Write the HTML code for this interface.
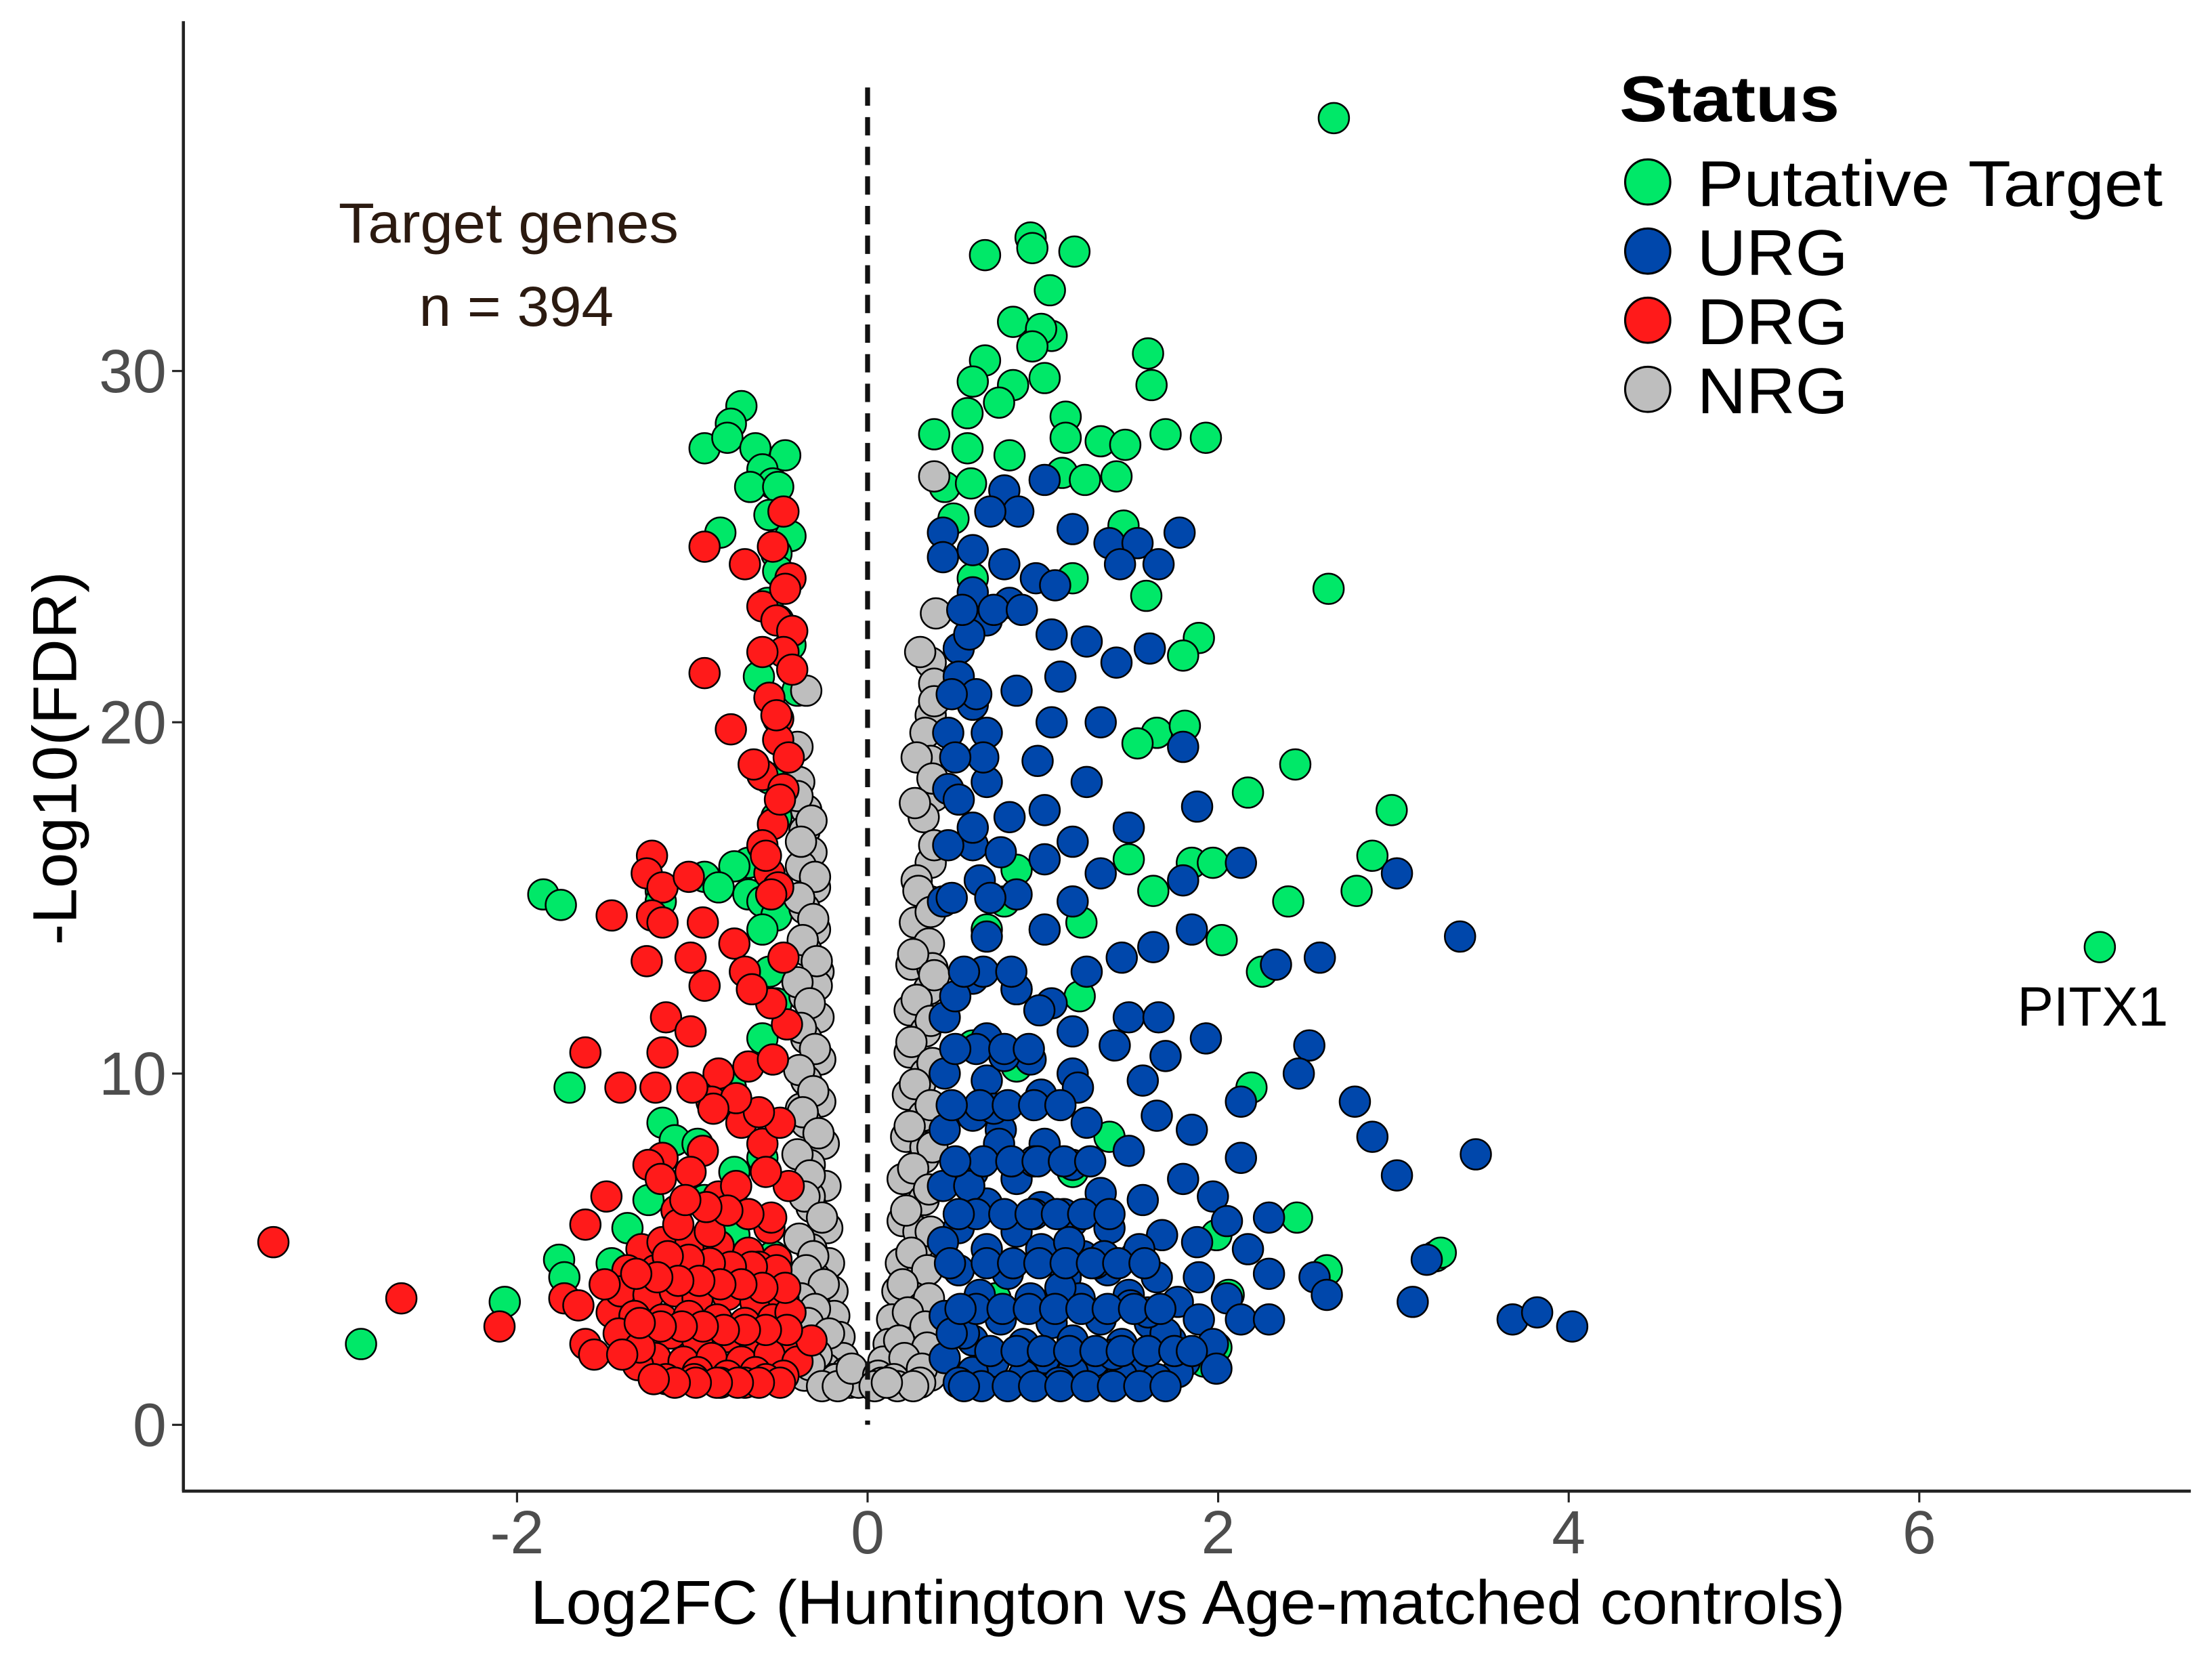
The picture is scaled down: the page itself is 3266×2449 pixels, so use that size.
<!DOCTYPE html>
<html><head><meta charset="utf-8"><style>
html,body{margin:0;padding:0;background:#fff;}
svg{display:block;}
text{font-family:"Liberation Sans",sans-serif;}
</style></head><body>
<svg id="chart" width="3266" height="2449" viewBox="0 0 1568 1176" preserveAspectRatio="none" xmlns="http://www.w3.org/2000/svg">
<rect x="0" y="0" width="1568" height="1176" fill="#fff"/>
<g id="points"></g>
<g id="axes"></g>
<text x="240" y="172" font-size="40" textLength="241" lengthAdjust="spacingAndGlyphs" fill="#2b1a10">Target genes</text>
<text x="297" y="231" font-size="40" textLength="138" lengthAdjust="spacingAndGlyphs" fill="#2b1a10">n = 394</text>
<text x="1430" y="727" font-size="39" textLength="107" lengthAdjust="spacingAndGlyphs" fill="#000">PITX1</text>
<text x="376" y="1151" font-size="44" textLength="932" lengthAdjust="spacingAndGlyphs" fill="#000">Log2FC (Huntington vs Age-matched controls)</text>
<text transform="translate(54,670) rotate(-90)" font-size="44" textLength="265" lengthAdjust="spacingAndGlyphs" fill="#000">-Log10(FDR)</text>
<g>
<text x="1148" y="86" font-size="46" font-weight="bold" textLength="156" lengthAdjust="spacingAndGlyphs" fill="#000">Status</text>
<circle cx="1168" cy="129" r="16" fill="#00E868" stroke="#000" stroke-width="1.5"/>
<text x="1203" y="146" font-size="46" textLength="330" lengthAdjust="spacingAndGlyphs" fill="#000">Putative Target</text>
<circle cx="1168" cy="178" r="16" fill="#0047AB" stroke="#000" stroke-width="1.5"/>
<text x="1203" y="195" font-size="46" textLength="107" lengthAdjust="spacingAndGlyphs" fill="#000">URG</text>
<circle cx="1168" cy="227" r="16" fill="#FF1A1A" stroke="#000" stroke-width="1.5"/>
<text x="1203" y="244" font-size="46" textLength="107" lengthAdjust="spacingAndGlyphs" fill="#000">DRG</text>
<circle cx="1168" cy="276" r="16" fill="#BEBEBE" stroke="#000" stroke-width="1.5"/>
<text x="1203" y="293" font-size="46" textLength="107" lengthAdjust="spacingAndGlyphs" fill="#000">NRG</text>
</g>
</svg>
<script>
const xTicks = [-2, 0, 2, 4, 6];
const yTicks = [0, 10, 20, 30];
const greenX = [2.66,7.03,0.93,0.67,0.94,1.18,1.04,0.83,0.67,1.05,0.99,0.94,0.60,0.83,0.75,1.01,1.13,0.57,0.38,0.81,0.57,0.44,0.59,0.49,1.60,1.62,1.13,1.33,1.47,1.70,1.93,1.11,1.24,1.42,1.46,1.59,2.63,1.89,1.80,1.17,0.60,1.65,1.54,1.81,1.85,1.97,2.02,2.25,2.40,2.17,2.44,2.99,2.88,2.79,3.24,3.27,2.19,2.45,2.62,1.49,1.63,1.22,1.21,1.38,1.54,1.92,1.99,2.06,1.99,1.32,0.85,0.78,0.68,0.85,0.60,0.85,0.73,1.17,
-0.72,-0.78,-0.93,-0.80,-0.64,-0.47,-0.60,-0.54,-0.67,-0.51,-0.56,-0.84,-0.44,-0.52,-0.51,-0.57,-0.51,-0.44,-0.62,-0.40,-0.56,-0.52,-0.68,-0.76,-0.93,-0.85,-0.68,-0.60,-0.52,-0.60,-1.85,-1.75,-1.18,-1.18,-0.56,-0.52,-0.60,-0.78,-1.70,-1.17,-1.10,-0.97,-0.76,-0.93,-1.25,-1.37,-1.46,-1.76,-1.73,-2.07,-2.89,-0.54,-0.76,-0.60];
const greenY = [37.2,13.6,33.8,33.3,33.5,33.4,32.3,31.4,30.3,31.0,31.2,30.7,29.7,29.6,29.1,29.8,28.7,28.8,28.2,27.6,27.8,26.7,26.8,25.8,30.5,29.6,28.1,28.0,27.9,28.2,28.1,27.1,26.9,27.0,25.6,23.6,23.8,22.4,21.9,24.1,24.1,19.7,19.4,19.9,16.0,16.0,13.8,12.9,14.9,18.0,18.8,17.5,16.2,15.2,4.8,4.9,9.6,5.9,4.4,16.1,15.2,14.3,12.2,8.2,1.4,1.8,2.2,3.7,5.4,4.7,15.8,14.9,14.1,12.4,10.8,10.2,3.6,7.2,
29.0,28.5,27.8,28.1,27.8,27.6,27.2,26.8,26.7,26.7,25.9,25.4,25.3,24.8,24.3,23.4,22.9,22.2,21.3,20.9,18.4,17.3,16.0,15.9,15.6,15.3,15.1,14.9,14.5,14.1,15.1,14.8,15.2,14.9,12.9,12.0,11.0,9.6,9.6,8.6,8.1,8.0,7.2,6.4,6.4,5.6,4.6,4.7,4.2,3.5,2.3,4.8,5.4,7.6];
const greyX = [-0.35,-0.40,-0.39,-0.35,-0.36,-0.32,-0.38,-0.30,-0.36,-0.30,-0.35,-0.28,-0.36,-0.28,-0.35,-0.27,-0.35,-0.27,-0.35,-0.25,-0.33,-0.24,-0.32,-0.23,-0.32,-0.22,-0.30,-0.20,-0.30,-0.19,-0.28,-0.16,-0.27,-0.14,-0.24,-0.12,-0.36,-0.07,-0.20,-0.38,-0.33,-0.37,-0.31,-0.29,
-0.40,-0.32,-0.38,-0.30,-0.39,-0.31,-0.37,-0.29,-0.40,-0.33,-0.38,-0.30,-0.39,-0.31,-0.37,-0.28,-0.40,-0.33,-0.36,-0.26,-0.39,-0.31,-0.35,-0.25,-0.38,-0.30,-0.34,-0.22,-0.38,-0.29,-0.33,-0.18,-0.10,-0.05,-0.26,-0.17,-0.09,
0.38,0.39,0.36,0.38,0.36,0.33,0.36,0.38,0.32,0.36,0.28,0.36,0.27,0.35,0.25,0.35,0.24,0.33,0.24,0.33,0.23,0.32,0.22,0.32,0.20,0.32,0.20,0.31,0.19,0.30,0.17,0.28,0.14,0.27,0.12,0.24,0.09,0.36,0.20,0.06,0.36,0.30,0.33,0.29,0.37,
0.30,0.38,0.28,0.37,0.27,0.38,0.29,0.36,0.26,0.38,0.28,0.36,0.25,0.37,0.27,0.36,0.24,0.37,0.26,0.35,0.22,0.36,0.25,0.34,0.20,0.35,0.23,0.33,0.18,0.34,0.21,0.31,0.15,0.30,0.08,0.04,0.17,0.26,0.11];
const greyY = [20.9,19.3,18.3,17.5,16.9,16.3,15.9,15.3,14.7,14.1,13.5,12.9,12.2,11.6,11.0,10.4,9.8,9.2,8.6,8.0,7.4,6.8,6.2,5.6,5.0,4.6,4.2,3.8,3.4,3.1,2.7,2.5,2.1,1.9,1.6,1.5,1.4,1.4,1.3,9.0,6.5,4.0,2.3,12.5,
17.9,17.2,16.6,15.6,15.0,14.4,13.8,13.2,12.6,12.0,11.3,10.7,10.1,9.5,8.9,8.3,7.7,7.1,6.5,5.9,5.3,4.8,4.4,4.0,3.6,3.3,2.9,2.6,2.3,2.0,1.7,1.3,1.2,1.2,1.1,1.1,1.6,
27.0,23.1,21.7,21.1,20.2,19.7,18.9,17.9,17.3,16.0,15.5,14.9,14.3,13.7,13.1,12.4,11.8,11.2,10.6,10.0,9.4,8.8,8.2,7.6,7.0,6.4,5.8,5.2,4.6,4.2,3.8,3.4,3.0,2.6,2.3,2.0,1.8,1.8,1.5,1.4,1.4,9.7,7.9,5.5,13.0,
22.0,20.6,19.0,18.4,17.7,16.5,15.2,14.6,13.4,12.8,12.1,11.5,10.9,10.3,9.7,9.1,8.5,7.9,7.3,6.7,6.1,5.5,4.9,4.4,4.0,3.6,3.2,2.8,2.4,2.2,1.9,1.6,1.3,1.2,1.2,1.1,1.1,1.1,1.2];
const redX = [-3.39,-2.66,-2.10,-1.61,-1.56,-1.73,-1.65,-1.46,-0.93,-0.54,-0.44,-0.60,-0.52,-0.43,-0.48,-0.43,-0.93,-0.56,-0.51,-0.78,-0.51,-0.60,-0.48,-0.54,-0.60,-0.56,-0.51,-1.23,-1.26,-1.17,-1.46,-1.23,-1.17,-1.02,-0.94,-1.26,-1.01,-0.76,-0.70,-0.48,-0.93,-1.15,-1.01,-1.17,-1.61,-1.21,-1.41,-0.85,-0.68,-0.54,-0.89,-0.72,-0.94,-1.17,-1.25,-1.01,-1.18,-0.60,-1.49,-1.61,-0.85,-1.09,-0.68,-0.56,-1.29,-1.17,-1.01,-0.85,-0.68,-0.52,-1.37,-1.21,-1.05,-0.89,-0.72,-0.56,-1.41,-1.25,-1.10,-0.97,-0.80,-0.64,-0.48,-1.33,-1.17,-1.02,-0.86,-0.70,-0.54,-1.42,-1.26,-1.12,-0.97,-0.80,-0.64,-0.48,-1.21,-1.05,-0.89,-0.72,-0.56,-0.40,-0.97,-0.80,-0.64,-0.48,-1.31,-0.32,-0.44,-1.08,-0.90,-0.75,-0.62,-1.30,-1.15,-0.99,-0.84,-0.70,-0.58,-1.40,-1.50,
-0.50,-0.62,-0.74,-0.86,-0.98,-1.10,-1.22,-0.46,-0.58,-0.70,-0.82,-0.94,-1.06,-1.18,-1.30,-0.52,-0.66,-0.78,-0.90,-1.02,-1.14,-0.47,-0.60,-0.72,-0.84,-0.96,-1.08,-1.20,-1.32,-0.55,-0.68,-0.80,-0.92,-1.04,-0.45,-0.58,-0.50,-0.62,-0.75,-0.88,-1.00,-0.46,-0.55,-0.66,-0.50,-0.58,-0.45,-0.52,-0.47,-0.60,-0.70,-0.48,-0.55,-0.65];
const redY = [5.2,3.6,2.8,2.3,2.0,3.6,3.4,3.2,25.0,25.0,24.1,23.3,22.9,22.6,22.0,21.5,21.4,20.7,20.1,19.8,19.5,18.5,18.1,17.1,16.5,15.7,15.3,16.2,15.7,15.3,14.5,14.5,14.3,15.6,14.3,13.2,13.3,13.7,12.9,13.3,12.5,11.6,11.2,10.6,10.6,9.6,9.6,10.0,10.2,10.4,9.2,8.6,7.8,7.6,7.4,7.2,7.0,8.0,6.5,5.7,6.5,6.1,6.0,5.6,5.0,5.2,5.2,5.1,4.9,4.7,4.4,4.4,4.5,4.3,4.2,4.1,3.8,3.7,3.8,3.6,3.7,3.5,3.6,3.1,3.0,3.1,3.0,2.9,3.0,2.6,2.5,2.6,2.4,2.5,2.3,2.4,1.9,1.8,1.9,1.8,2.0,1.8,1.5,1.4,1.5,1.4,1.7,2.4,3.2,5.7,5.5,6.8,4.5,2.2,1.3,1.3,1.2,1.2,1.3,2.0,4.0,
1.2,1.2,1.2,1.2,1.2,1.2,1.3,2.7,2.7,2.7,2.7,2.8,2.8,2.8,2.9,4.4,4.5,4.5,4.6,4.7,4.8,3.9,3.9,4.0,4.0,4.1,4.1,4.2,4.3,5.9,6.0,6.1,6.2,6.4,6.8,7.2,8.6,8.9,9.3,9.0,9.6,11.4,12.0,12.4,17.8,16.2,19.0,20.2,23.8,22.0,24.5,26.0,15.1,18.8];
const blueX = [0.43,0.60,0.43,0.78,0.96,1.17,1.38,1.54,1.78,1.66,1.44,1.01,0.78,0.86,1.07,1.25,1.42,0.81,0.68,0.52,1.05,1.61,1.10,0.85,0.60,0.68,1.05,1.33,1.80,0.97,1.25,0.68,0.81,1.01,1.88,1.49,1.17,0.60,0.76,1.01,2.13,3.02,1.80,1.33,0.64,0.85,1.17,1.01,0.68,1.85,3.38,1.63,1.45,2.58,2.33,1.25,0.60,0.85,1.05,1.49,1.66,1.17,0.68,1.93,2.52,1.70,0.93,1.41,1.17,2.46,0.68,1.57,0.99,2.13,2.78,0.60,1.65,1.25,1.85,2.88,0.76,1.01,3.47,2.13,1.49,3.02,1.17,0.60,0.85,1.80,1.33,1.57,1.97,0.68,0.99,2.05,2.29,1.17,0.52,0.85,1.38,1.68,1.88,0.68,0.99,1.23,1.53,2.17,3.19,0.52,0.80,1.13,1.37,1.65,1.89,2.29,2.55,0.64,0.93,1.21,1.49,1.77,2.05,2.62,3.11,0.44,0.76,1.05,1.33,1.61,1.89,2.13,2.29,3.68,3.82,4.02,0.60,0.89,1.17,1.45,1.73,1.97,0.44,0.72,1.01,1.29,1.57,1.81,0.60,0.89,1.17,1.45,1.77,1.99,0.52,1.09,1.65,0.44,0.44,0.44,0.43,0.43,0.43,0.46,0.46,0.46,0.52,0.60,0.72,0.95,1.12,1.30,1.50,1.70,1.40,1.10,0.55,0.75,0.95,1.15,1.35,1.55,0.58,0.78,0.98,1.20,1.60,
0.50,0.65,0.80,0.95,1.10,1.25,1.40,1.55,1.70,0.55,0.70,0.85,1.00,1.15,1.30,1.45,1.60,1.75,1.85,0.48,0.62,0.77,0.92,1.07,1.22,1.37,1.52,1.67,0.53,0.68,0.83,0.98,1.13,1.28,1.43,1.58,0.47,0.62,0.78,0.93,1.08,1.23,1.38,0.52,0.66,0.82,0.97,1.12,1.27,0.50,0.64,0.80,0.95,1.10,0.48,0.62,0.78,0.92,0.50,0.66,0.82,0.55,0.70,0.48,0.60,0.52,0.66,0.50,0.62,0.48,0.58,0.72,0.88,0.54,0.70];
const blueY = [25.4,24.9,24.7,24.5,24.1,25.5,25.1,25.1,25.4,24.5,24.5,26.9,26.6,26.0,23.9,22.3,21.7,23.4,22.9,22.1,22.5,22.1,21.3,20.9,20.5,19.7,20.0,20.0,19.3,18.9,18.3,18.3,17.3,17.5,17.6,17.0,16.6,16.5,16.3,16.1,16.0,15.7,15.5,15.7,15.5,15.1,14.9,14.1,13.9,14.1,13.9,13.6,13.3,13.3,13.1,12.9,12.7,12.4,12.0,11.6,11.6,11.2,11.0,11.0,10.8,10.5,10.4,10.8,10.0,10.0,9.8,9.8,9.4,9.2,9.2,8.8,8.8,8.6,8.4,8.2,8.4,8.0,7.7,7.6,7.8,7.1,7.4,7.2,7.0,7.0,6.6,6.4,6.5,6.3,6.2,5.8,5.9,5.8,5.6,5.5,5.6,5.4,5.2,5.0,5.0,4.8,4.8,5.0,4.7,4.4,4.3,4.2,4.4,4.2,4.2,4.3,4.2,3.7,3.6,3.6,3.7,3.5,3.6,3.7,3.5,3.1,3.0,2.9,3.0,2.9,3.0,3.0,3.0,3.0,3.2,2.8,2.4,2.3,2.4,2.3,2.4,2.3,1.9,1.8,1.9,1.8,1.9,1.8,1.5,1.4,1.5,1.4,1.5,1.6,1.2,1.2,1.3,11.6,10.0,8.4,6.8,5.2,14.9,16.5,18.1,19.7,21.3,23.7,9.0,7.5,6.0,4.6,3.4,2.6,2.0,3.9,2.6,8.0,6.0,5.2,4.8,5.0,6.8,10.5,11.8,9.6,3.2,12.2,
1.1,1.1,1.1,1.1,1.1,1.1,1.1,1.1,1.1,2.1,2.1,2.1,2.1,2.1,2.1,2.1,2.1,2.1,2.6,3.3,3.3,3.3,3.3,3.3,3.3,3.3,3.3,3.3,4.6,4.6,4.6,4.6,4.6,4.6,4.6,4.6,6.0,6.0,6.0,6.0,6.0,6.0,6.0,7.5,7.5,7.5,7.5,7.5,7.5,9.1,9.1,9.1,9.1,9.1,10.7,10.7,10.7,10.7,12.9,12.9,12.9,15.0,15.0,17.0,17.8,19.0,19.0,20.8,20.8,22.5,23.2,23.2,23.2,26.0,25.8];

const NS = 'http://www.w3.org/2000/svg';
const X0 = 615, XS = 124.25, Y0 = 1010, YS = 24.9;
function sx(v){ return X0 + v * XS; }
function sy(v){ return Y0 - v * YS; }
const pts = document.getElementById('points');
const axes = document.getElementById('axes');

function drawSeries(xs, ys, fill, name){
  for (let i = 0; i < xs.length; i++){
    const c = document.createElementNS(NS, 'circle');
    c.setAttribute('cx', sx(xs[i]));
    c.setAttribute('cy', sy(ys[i]));
    c.setAttribute('r', 10.8);
    c.setAttribute('fill', fill);
    c.setAttribute('stroke', '#000');
    c.setAttribute('stroke-width', '1.2');
    
    
    pts.appendChild(c);
  }
}
drawSeries(greenX, greenY, '#00E868', 'point-putative-target');
drawSeries(greyX, greyY, '#BEBEBE', 'point-nrg');
drawSeries(redX, redY, '#FF1A1A', 'point-drg');
drawSeries(blueX, blueY, '#0047AB', 'point-urg');

const dl = document.createElementNS(NS, 'line');
dl.setAttribute('x1', sx(0)); dl.setAttribute('x2', sx(0));
dl.setAttribute('y1', 62); dl.setAttribute('y2', sy(0));
dl.setAttribute('stroke', '#111'); dl.setAttribute('stroke-width', '3.5');
dl.setAttribute('stroke-dasharray', '13 8');


axes.appendChild(dl);

function line(x1,y1,x2,y2,w,name){
  const l = document.createElementNS(NS, 'line');
  l.setAttribute('x1', x1); l.setAttribute('y1', y1);
  l.setAttribute('x2', x2); l.setAttribute('y2', y2);
  l.setAttribute('stroke', '#222'); l.setAttribute('stroke-width', w);
  
  
  axes.appendChild(l);
}
line(130, 15, 130, 1057, 2.2, 'y-axis-line');
line(129, 1057, 1553, 1057, 2.2, 'x-axis-line');

xTicks.forEach(function(v){
  line(sx(v), 1057, sx(v), 1065, 1.5, 'x-tick');
  const t = document.createElementNS(NS, 'text');
  t.setAttribute('x', sx(v)); t.setAttribute('y', 1101);
  t.setAttribute('font-size', '43'); t.setAttribute('text-anchor', 'middle');
  t.setAttribute('fill', '#4d4d4d');
  t.textContent = (v < 0 ? '-' : '') + Math.abs(v);
  
  
  axes.appendChild(t);
});
yTicks.forEach(function(v){
  line(122, sy(v), 130, sy(v), 1.5, 'y-tick');
  const t = document.createElementNS(NS, 'text');
  t.setAttribute('x', 118); t.setAttribute('y', sy(v) + 15);
  t.setAttribute('font-size', '43'); t.setAttribute('text-anchor', 'end');
  t.setAttribute('fill', '#4d4d4d');
  t.textContent = String(v);
  
  
  axes.appendChild(t);
});
</script>
</body></html>
